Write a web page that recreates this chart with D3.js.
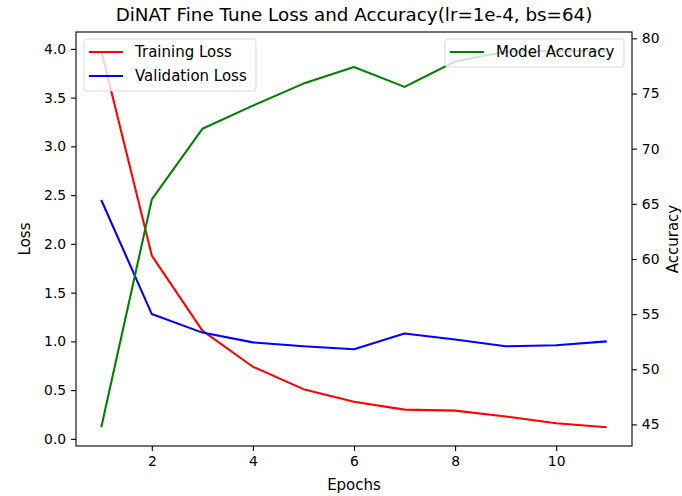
<!DOCTYPE html>
<html>
<head>
<meta charset="utf-8">
<script src="https://cdn.jsdelivr.net/npm/d3@7"></script>
<style>
  body { margin: 0; background: #fff; }
  svg { display: block; font-family: "DejaVu Sans", sans-serif; }
</style>
</head>
<body>
<svg id="chart" width="682" height="496"></svg>
<script>
// values
const epochs = [1, 2, 3, 4, 5, 6, 7, 8, 9, 10, 11];
const trainingLoss = [3.98, 1.88, 1.11, 0.74, 0.51, 0.38, 0.30, 0.29, 0.23, 0.16, 0.12];
const validationLoss = [2.45, 1.28, 1.09, 0.99, 0.95, 0.92, 1.08, 1.02, 0.95, 0.96, 1.00];
const accuracy = [44.75, 65.4, 71.8, 73.9, 75.9, 77.4, 75.6, 77.9, 78.8, 78.85, 78.87];
const xTicks = [2, 4, 6, 8, 10];
const lossTicks = [0, 0.5, 1, 1.5, 2, 2.5, 3, 3.5, 4];
const accTicks = [45, 50, 55, 60, 65, 70, 75, 80];

const margin = {left: 76, right: 682 - 632, top: 32, bottom: 496 - 446};
const W = 682, H = 496;
const svg = d3.select("#chart");

// matplotlib style 5% padding
function padded(vals) {
    const [lo, hi] = d3.extent(vals);
    const p = (hi - lo) * 0.05;
    return [lo - p, hi + p];
}

const x = d3.scaleLinear().domain(padded(epochs)).range([margin.left, W - margin.right]);
const y = d3.scaleLinear().domain(padded(trainingLoss.concat(validationLoss))).range([H - margin.bottom, margin.top]);
const y2 = d3.scaleLinear().domain(padded(accuracy)).range([H - margin.bottom, margin.top]);

const line = (ys, sc) => d3.line().x((d, i) => x(epochs[i])).y(d => sc(d))(ys);

const tickFont = "13.9px";
const labelFont = "15px";

// ax1 lines
const g1 = svg.append("g");
g1.append("path").attr("d", line(trainingLoss, y)).attr("fill", "none")
    .attr("stroke", "#ff0000").attr("stroke-width", 2.08).attr("stroke-linejoin", "round");
g1.append("path").attr("d", line(validationLoss, y)).attr("fill", "none")
    .attr("stroke", "#0000ff").attr("stroke-width", 2.08).attr("stroke-linejoin", "round");

// x axis
const xAxis = svg.append("g").attr("transform", `translate(0,${H - margin.bottom})`)
    .call(d3.axisBottom(x).tickValues(xTicks).tickSizeOuter(0).tickSize(4.9).tickPadding(4.9).tickFormat(d3.format("d")));
// left axis
const yAxis = svg.append("g").attr("transform", `translate(${margin.left},0)`)
    .call(d3.axisLeft(y).tickValues(lossTicks).tickSizeOuter(0).tickSize(4.9).tickPadding(4.9).tickFormat(d3.format(".1f")));

[xAxis, yAxis].forEach(a => {
    a.select(".domain").remove();
    a.selectAll("line").attr("stroke", "#000").attr("stroke-width", 1.1);
    a.selectAll("text").attr("fill", "#000").style("font-size", tickFont).style("font-family", "DejaVu Sans");
});

function legend(g, items, x0, y0, w) {
    const h = 4 + items.length * 24;
    g.append("rect").attr("x", x0).attr("y", y0).attr("width", w).attr("height", h)
        .attr("rx", 3).attr("fill", "#fff").attr("fill-opacity", 0.8)
        .attr("stroke", "#d0d0d0").attr("stroke-opacity", 0.8).attr("stroke-width", 1);
    items.forEach((it, i) => {
        const cy = y0 + 13 + i * 24;
        g.append("line").attr("x1", x0 + 5).attr("x2", x0 + 39).attr("y1", cy).attr("y2", cy)
            .attr("stroke", it.color).attr("stroke-width", 2.08);
        g.append("text").attr("x", x0 + 51).attr("y", cy).attr("dy", "0.35em")
            .style("font-size", labelFont).attr("fill", "#000").text(it.label);
    });
}

legend(svg.append("g"), [
    {label: "Training Loss", color: "#ff0000"},
    {label: "Validation Loss", color: "#0000ff"}
], 84, 39, 172);

// ax2 line
svg.append("path").attr("d", line(accuracy, y2)).attr("fill", "none")
    .attr("stroke", "#008000").attr("stroke-width", 2.08).attr("stroke-linejoin", "round");

// right axis
const y2Axis = svg.append("g").attr("transform", `translate(${W - margin.right},0)`)
    .call(d3.axisRight(y2).tickValues(accTicks).tickSizeOuter(0).tickSize(4.9).tickPadding(4.9).tickFormat(d3.format("d")));
y2Axis.select(".domain").remove();
y2Axis.selectAll("line").attr("stroke", "#000").attr("stroke-width", 1.1);
y2Axis.selectAll("text").attr("fill", "#000").style("font-size", tickFont).style("font-family", "DejaVu Sans");

// spines
svg.append("rect").attr("x", margin.left).attr("y", margin.top)
    .attr("width", W - margin.left - margin.right).attr("height", H - margin.top - margin.bottom)
    .attr("fill", "none").attr("stroke", "#000").attr("stroke-width", 1.1);

legend(svg.append("g"), [
    {label: "Model Accuracy", color: "#008000"}
], 445, 39, 179);

// labels
svg.append("text").attr("x", (margin.left + W - margin.right) / 2).attr("y", 15)
    .attr("text-anchor", "middle").attr("dy", "0.35em").style("font-size", "18.3px")
    .text("DiNAT Fine Tune Loss and Accuracy(lr=1e-4, bs=64)");
svg.append("text").attr("x", (margin.left + W - margin.right) / 2).attr("y", 485)
    .attr("text-anchor", "middle").attr("dy", "0.35em").style("font-size", labelFont).text("Epochs");
svg.append("text").attr("transform", `translate(25,${(margin.top + H - margin.bottom) / 2}) rotate(-90)`)
    .attr("text-anchor", "middle").attr("dy", "0.35em").style("font-size", labelFont).text("Loss");
svg.append("text").attr("transform", `translate(672.5,${(margin.top + H - margin.bottom) / 2}) rotate(-90)`)
    .attr("text-anchor", "middle").attr("dy", "0.35em").style("font-size", labelFont).text("Accuracy");
</script>
</body>
</html>
